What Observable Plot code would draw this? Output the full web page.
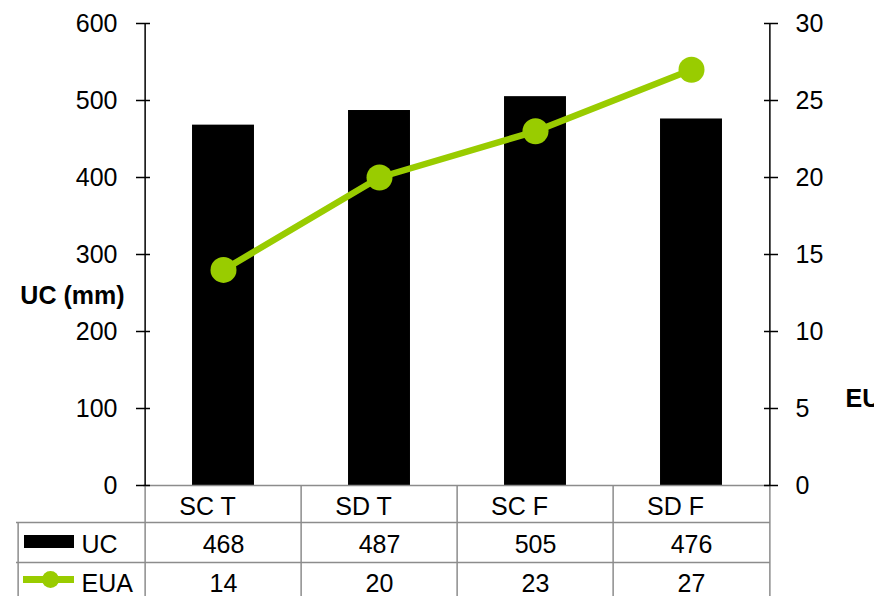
<!DOCTYPE html>
<html>
<head>
<meta charset="utf-8">
<script src="https://cdn.jsdelivr.net/npm/d3@7"></script>
<script src="https://cdn.jsdelivr.net/npm/@observablehq/plot@0.6"></script>
<style>
  html, body { margin: 0; padding: 0; background: #fff; overflow: hidden; }
  #chart { width: 874px; height: 596px; overflow: hidden; }
</style>
</head>
<body>
<div id="chart"></div>
<script>
// Treatments and measured series
const categories = ["SC T", "SD T", "SC F", "SD F"];
const ucValues = [468, 487, 505, 476];   // UC (mm), left axis
const euaValues = [14, 20, 23, 27];      // EUA, right axis
const leftTicks = [0, 100, 200, 300, 400, 500, 600];
const rightTicks = [0, 5, 10, 15, 20, 25, 30];

const rows = categories.map((cat, i) => ({cat, uc: ucValues[i], eua: euaValues[i]}));

// Layout
const W = 874, H = 596;
const ML = 143, MR = 104, MT = 23, MB = 111;
const frameH = H - MT - MB;
const step = (W - ML - MR) / categories.length;
const ratio = 600 / 30; // right-axis units to left-axis units
const green = "#99cc00";
const grid = "#8c8c8c";
const tableLeft = 16;
const row1 = 37, row2 = 77; // table row separators below the zero line
const fs = 25;

const chart = Plot.plot({
  width: W,
  height: H,
  marginLeft: ML,
  marginRight: MR,
  marginTop: MT,
  marginBottom: MB,
  style: {fontFamily: "'Liberation Sans', Arial, sans-serif", fontSize: fs + "px", color: "#000", background: "#fff"},
  x: {domain: categories, padding: 0, axis: null},
  y: {domain: [0, 600], axis: null},
  marks: [
    // bars
    Plot.barY(rows, {x: "cat", y: "uc", fill: "#000", insetLeft: step * 0.3, insetRight: step * 0.3}),

    // data table grid
    Plot.ruleY([0], {stroke: grid, strokeWidth: 1.5}),
    Plot.ruleY([0], {dy: row1, insetLeft: -(ML - tableLeft), stroke: grid, strokeWidth: 1.5}),
    Plot.ruleY([0], {dy: row2, insetLeft: -(ML - tableLeft), stroke: grid, strokeWidth: 1.5}),
    Plot.ruleX(categories, {x: d => d, dx: -step / 2, insetTop: frameH, insetBottom: -MB, stroke: grid, strokeWidth: 1.5}),
    Plot.ruleX(categories.slice(-1), {x: d => d, dx: step / 2, insetTop: frameH, insetBottom: -MB, stroke: grid, strokeWidth: 1.5}),
    Plot.ruleX(categories.slice(0, 1), {x: d => d, dx: -step / 2 - (ML - tableLeft), insetTop: frameH + row1, insetBottom: -MB, stroke: grid, strokeWidth: 1.5}),

    // axis lines
    Plot.ruleX(categories.slice(0, 1), {x: d => d, dx: -step / 2, stroke: "#000", strokeWidth: 1.5}),
    Plot.ruleX(categories.slice(-1), {x: d => d, dx: step / 2, stroke: "#000", strokeWidth: 1.5}),

    // left axis
    Plot.axisY({anchor: "left", label: null, ticks: leftTicks, tickSize: 14, dx: 7, tickPadding: 19, strokeWidth: 1.5, fontSize: fs}),
    // right axis (EUA)
    Plot.axisY({anchor: "right", label: null, ticks: rightTicks.map(v => v * ratio), tickFormat: d => d / ratio, tickSize: 14, dx: -7, tickPadding: 18, strokeWidth: 1.5, fontSize: fs}),

    // axis titles
    Plot.text(["UC (mm)"], {text: d => d, frameAnchor: "left", lineAnchor: "middle", dx: -19, dy: 41, textAnchor: "end", fontWeight: "bold", fontSize: 25}),
    Plot.text(["EUA"], {text: d => d, frameAnchor: "right", lineAnchor: "middle", dx: 75, dy: 144, textAnchor: "start", fontWeight: "bold", fontSize: 25}),

    // EUA line
    Plot.line(rows, {x: "cat", y: d => d.eua * ratio, stroke: green, strokeWidth: 6.5}),
    Plot.dot(rows, {x: "cat", y: d => d.eua * ratio, r: 13, fill: green}),

    // table header and values
    Plot.text(rows, {x: "cat", text: "cat", frameAnchor: "bottom", lineAnchor: "middle", dx: -16, dy: 21, fontSize: fs}),
    Plot.text(rows, {x: "cat", text: d => String(d.uc), frameAnchor: "bottom", lineAnchor: "middle", dy: 59, fontSize: fs}),
    Plot.text(rows, {x: "cat", text: d => String(d.eua), frameAnchor: "bottom", lineAnchor: "middle", dy: 98, fontSize: fs}),

    // row keys
    Plot.ruleY([0], {dy: 56, insetLeft: -(ML - 24), insetRight: (W - MR) - 74, stroke: "#000", strokeWidth: 13}),
    Plot.ruleY([0], {dy: 94, insetLeft: -(ML - 23), insetRight: (W - MR) - 74, stroke: green, strokeWidth: 7}),
    Plot.dot([0], {y: d => d, frameAnchor: "left", dx: -(ML - 50), dy: 94, r: 8.5, fill: green}),
    Plot.text(["UC"], {text: d => d, frameAnchor: "bottom-left", lineAnchor: "middle", dx: -(ML - 81), dy: 59, textAnchor: "start", fontSize: fs}),
    Plot.text(["EUA"], {text: d => d, frameAnchor: "bottom-left", lineAnchor: "middle", dx: -(ML - 81), dy: 98, textAnchor: "start", fontSize: fs})
  ]
});

document.getElementById("chart").appendChild(chart);
</script>
</body>
</html>
